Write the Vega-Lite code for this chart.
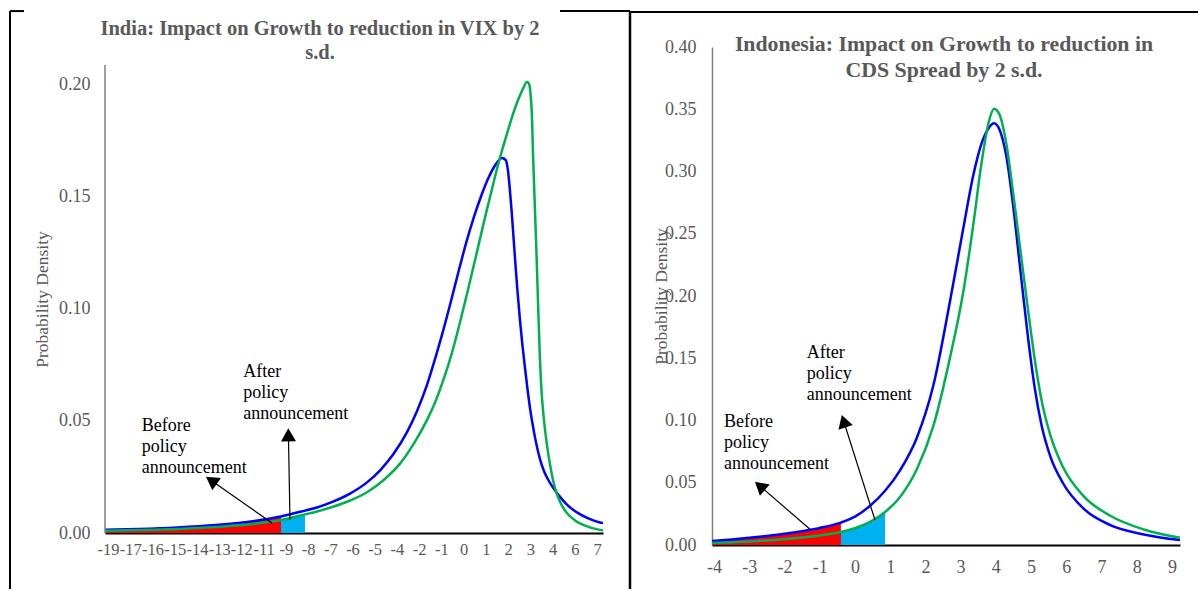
{
  "$schema": "https://vega.github.io/schema/vega-lite/v6.json",
  "background": "white",
  "padding": {"left": 9, "top": 10, "right": 0, "bottom": 0},
  "autosize": {"type": "pad"},
  "bounds": "flush",
  "spacing": 109,
  "config": {
    "view": {"stroke": null},
    "font": "Liberation Serif",
    "axis": {"grid": false, "ticks": false, "tickSize": 0, "labelOverlap": false, "labelFont": "Liberation Serif", "labelFontSize": 18, "labelColor": "#595959", "titleFont": "Liberation Serif", "titleFontSize": 17.5, "titleFontWeight": "normal", "titleColor": "#595959"},
    "title": {"font": "Liberation Serif", "fontWeight": "bold", "color": "#595959", "frame": "group"}
  },
  "datasets": {
    "india": [
      {"x": -18.735, "curve": "Before", "density": 0.0014}, {"x": -17, "curve": "Before", "density": 0.0018}, {"x": -15, "curve": "Before", "density": 0.0025}, {"x": -13, "curve": "Before", "density": 0.0036}, {"x": -11, "curve": "Before", "density": 0.0054}, {"x": -9.63, "curve": "Before", "density": 0.0074}, {"x": -8.39, "curve": "Before", "density": 0.01}, {"x": -7.77, "curve": "Before", "density": 0.0114}, {"x": -6.94, "curve": "Before", "density": 0.014}, {"x": -6.06, "curve": "Before", "density": 0.0176}, {"x": -5.18, "curve": "Before", "density": 0.0226}, {"x": -4.5, "curve": "Before", "density": 0.028}, {"x": -3.83, "curve": "Before", "density": 0.035}, {"x": -3.11, "curve": "Before", "density": 0.045}, {"x": -2.59, "curve": "Before", "density": 0.0545}, {"x": -2.08, "curve": "Before", "density": 0.066}, {"x": -1.65, "curve": "Before", "density": 0.078}, {"x": -1.25, "curve": "Before", "density": 0.09}, {"x": -0.85, "curve": "Before", "density": 0.103}, {"x": -0.45, "curve": "Before", "density": 0.1165}, {"x": -0.05, "curve": "Before", "density": 0.1295}, {"x": 0.35, "curve": "Before", "density": 0.141}, {"x": 0.75, "curve": "Before", "density": 0.151}, {"x": 1.1, "curve": "Before", "density": 0.1585}, {"x": 1.4, "curve": "Before", "density": 0.1635}, {"x": 1.65, "curve": "Before", "density": 0.1665}, {"x": 1.8, "curve": "Before", "density": 0.1674}, {"x": 2.0, "curve": "Before", "density": 0.1665}, {"x": 2.11, "curve": "Before", "density": 0.162}, {"x": 2.2, "curve": "Before", "density": 0.1545}, {"x": 2.3, "curve": "Before", "density": 0.144}, {"x": 2.4, "curve": "Before", "density": 0.132}, {"x": 2.5, "curve": "Before", "density": 0.12}, {"x": 2.6, "curve": "Before", "density": 0.1085}, {"x": 2.73, "curve": "Before", "density": 0.0955}, {"x": 2.86, "curve": "Before", "density": 0.084}, {"x": 2.99, "curve": "Before", "density": 0.074}, {"x": 3.12, "curve": "Before", "density": 0.0645}, {"x": 3.25, "curve": "Before", "density": 0.056}, {"x": 3.38, "curve": "Before", "density": 0.049}, {"x": 3.51, "curve": "Before", "density": 0.0428}, {"x": 3.64, "curve": "Before", "density": 0.0375}, {"x": 3.77, "curve": "Before", "density": 0.033}, {"x": 3.97, "curve": "Before", "density": 0.0278}, {"x": 4.18, "curve": "Before", "density": 0.024}, {"x": 4.4, "curve": "Before", "density": 0.0208}, {"x": 4.65, "curve": "Before", "density": 0.0178}, {"x": 5.15, "curve": "Before", "density": 0.0128}, {"x": 5.68, "curve": "Before", "density": 0.0092}, {"x": 6.3, "curve": "Before", "density": 0.0064}, {"x": 6.87, "curve": "Before", "density": 0.0047}, {"x": 7.03, "curve": "Before", "density": 0.0044},
      {"x": -18.735, "curve": "After", "density": 0.001}, {"x": -17, "curve": "After", "density": 0.0013}, {"x": -15, "curve": "After", "density": 0.0018}, {"x": -13, "curve": "After", "density": 0.0027}, {"x": -11, "curve": "After", "density": 0.0041}, {"x": -9.63, "curve": "After", "density": 0.0058}, {"x": -8.39, "curve": "After", "density": 0.0083}, {"x": -7.77, "curve": "After", "density": 0.0096}, {"x": -6.94, "curve": "After", "density": 0.0117}, {"x": -6.06, "curve": "After", "density": 0.0145}, {"x": -5.18, "curve": "After", "density": 0.0182}, {"x": -4.3, "curve": "After", "density": 0.0238}, {"x": -3.44, "curve": "After", "density": 0.0313}, {"x": -2.75, "curve": "After", "density": 0.04}, {"x": -2.08, "curve": "After", "density": 0.0504}, {"x": -1.65, "curve": "After", "density": 0.0585}, {"x": -1.25, "curve": "After", "density": 0.0678}, {"x": -0.8, "curve": "After", "density": 0.08}, {"x": -0.37, "curve": "After", "density": 0.094}, {"x": 0.07, "curve": "After", "density": 0.1095}, {"x": 0.51, "curve": "After", "density": 0.1255}, {"x": 0.93, "curve": "After", "density": 0.141}, {"x": 1.34, "curve": "After", "density": 0.1555}, {"x": 1.65, "curve": "After", "density": 0.166}, {"x": 2.0, "curve": "After", "density": 0.1765}, {"x": 2.3, "curve": "After", "density": 0.185}, {"x": 2.6, "curve": "After", "density": 0.1925}, {"x": 2.9, "curve": "After", "density": 0.1985}, {"x": 3.09, "curve": "After", "density": 0.2013}, {"x": 3.2, "curve": "After", "density": 0.2005}, {"x": 3.27, "curve": "After", "density": 0.197}, {"x": 3.34, "curve": "After", "density": 0.1888}, {"x": 3.42, "curve": "After", "density": 0.1665}, {"x": 3.51, "curve": "After", "density": 0.1442}, {"x": 3.6, "curve": "After", "density": 0.1219}, {"x": 3.68, "curve": "After", "density": 0.0996}, {"x": 3.77, "curve": "After", "density": 0.0772}, {"x": 3.86, "curve": "After", "density": 0.062}, {"x": 3.97, "curve": "After", "density": 0.051}, {"x": 4.12, "curve": "After", "density": 0.04}, {"x": 4.3, "curve": "After", "density": 0.03}, {"x": 4.46, "curve": "After", "density": 0.023}, {"x": 4.65, "curve": "After", "density": 0.0172}, {"x": 4.81, "curve": "After", "density": 0.0138}, {"x": 5.15, "curve": "After", "density": 0.009}, {"x": 5.6, "curve": "After", "density": 0.0055}, {"x": 6.01, "curve": "After", "density": 0.0036}, {"x": 6.87, "curve": "After", "density": 0.0014}, {"x": 7.03, "curve": "After", "density": 0.0012}
    ],
    "indonesia": [
      {"x": -4.06, "curve": "Before", "density": 0.0032}, {"x": -3.5, "curve": "Before", "density": 0.0045}, {"x": -3, "curve": "Before", "density": 0.0058}, {"x": -2.5, "curve": "Before", "density": 0.0073}, {"x": -2, "curve": "Before", "density": 0.009}, {"x": -1.5, "curve": "Before", "density": 0.0111}, {"x": -1, "curve": "Before", "density": 0.0137}, {"x": -0.4, "curve": "Before", "density": 0.018}, {"x": 0, "curve": "Before", "density": 0.0228}, {"x": 0.43, "curve": "Before", "density": 0.0315}, {"x": 0.855, "curve": "Before", "density": 0.0436}, {"x": 1.28, "curve": "Before", "density": 0.06}, {"x": 1.76, "curve": "Before", "density": 0.0864}, {"x": 2.23, "curve": "Before", "density": 0.1287}, {"x": 2.7, "curve": "Before", "density": 0.196}, {"x": 3.08, "curve": "Before", "density": 0.255}, {"x": 3.36, "curve": "Before", "density": 0.297}, {"x": 3.6, "curve": "Before", "density": 0.323}, {"x": 3.8, "curve": "Before", "density": 0.335}, {"x": 3.95, "curve": "Before", "density": 0.3387}, {"x": 4.1, "curve": "Before", "density": 0.334}, {"x": 4.3, "curve": "Before", "density": 0.312}, {"x": 4.5, "curve": "Before", "density": 0.2707}, {"x": 4.7, "curve": "Before", "density": 0.22}, {"x": 4.9, "curve": "Before", "density": 0.17}, {"x": 5.1, "curve": "Before", "density": 0.127}, {"x": 5.3, "curve": "Before", "density": 0.096}, {"x": 5.55, "curve": "Before", "density": 0.071}, {"x": 5.9, "curve": "Before", "density": 0.05}, {"x": 6.5, "curve": "Before", "density": 0.029}, {"x": 7.25, "curve": "Before", "density": 0.016}, {"x": 8.2, "curve": "Before", "density": 0.0085}, {"x": 9.23, "curve": "Before", "density": 0.004},
      {"x": -4.06, "curve": "After", "density": 0.0016}, {"x": -3.5, "curve": "After", "density": 0.0022}, {"x": -3, "curve": "After", "density": 0.0029}, {"x": -2.5, "curve": "After", "density": 0.0037}, {"x": -2, "curve": "After", "density": 0.0047}, {"x": -1.5, "curve": "After", "density": 0.006}, {"x": -1, "curve": "After", "density": 0.0077}, {"x": -0.4, "curve": "After", "density": 0.0105}, {"x": 0, "curve": "After", "density": 0.0135}, {"x": 0.43, "curve": "After", "density": 0.0185}, {"x": 0.855, "curve": "After", "density": 0.0265}, {"x": 1.28, "curve": "After", "density": 0.0385}, {"x": 1.76, "curve": "After", "density": 0.061}, {"x": 2.23, "curve": "After", "density": 0.096}, {"x": 2.7, "curve": "After", "density": 0.1507}, {"x": 3.08, "curve": "After", "density": 0.204}, {"x": 3.36, "curve": "After", "density": 0.2573}, {"x": 3.6, "curve": "After", "density": 0.308}, {"x": 3.8, "curve": "After", "density": 0.34}, {"x": 3.95, "curve": "After", "density": 0.3505}, {"x": 4.1, "curve": "After", "density": 0.346}, {"x": 4.3, "curve": "After", "density": 0.322}, {"x": 4.5, "curve": "After", "density": 0.281}, {"x": 4.7, "curve": "After", "density": 0.236}, {"x": 4.9, "curve": "After", "density": 0.192}, {"x": 5.1, "curve": "After", "density": 0.15}, {"x": 5.3, "curve": "After", "density": 0.116}, {"x": 5.55, "curve": "After", "density": 0.088}, {"x": 5.9, "curve": "After", "density": 0.063}, {"x": 6.5, "curve": "After", "density": 0.039}, {"x": 7.25, "curve": "After", "density": 0.0235}, {"x": 8.2, "curve": "After", "density": 0.0125}, {"x": 9.23, "curve": "After", "density": 0.0058}
    ]
  },
  "hconcat": [
    {
      "width": 498,
      "height": 486,
      "title": {"text": ["India: Impact on Growth to reduction in VIX by 2", "s.d."], "fontSize": 20.5, "lineHeight": 24, "offset": -53, "dx": -34, "anchor": "middle", "frame": "group"},
      "layer": [
        {
          "data": {"name": "india"},
          "transform": [{"filter": "datum.curve == 'After' && datum.x <= -8.39"}],
          "mark": {"type": "area", "color": "#00B0F0", "interpolate": "monotone"},
          "encoding": {
            "x": {"field": "x", "type": "quantitative", "scale": {"domain": [-18.735, 7.03], "nice": false, "zero": false},
              "axis": {"title": null, "values": [-18.58, -17.43, -16.28, -15.13, -13.98, -12.83, -11.68, -10.53, -9.38, -8.23, -7.08, -5.93, -4.78, -3.63, -2.48, -1.33, -0.18, 0.97, 2.12, 3.27, 4.42, 5.57, 6.72], "tickCount": 50, "labelExpr": "'' + round(datum.value)", "labelOverlap": false, "labelBound": false, "labelFlush": false, "labelFontSize": 16.5, "labelPadding": 8, "domainColor": "#000000", "domainWidth": 2}},
            "y": {"field": "density", "type": "quantitative", "scale": {"domain": [0, 0.21696], "nice": false, "zero": true},
              "axis": {"title": "Probability Density", "values": [0, 0.05, 0.1, 0.15, 0.2], "tickCount": 20, "format": ".2f", "domain": false, "labelPadding": 15, "titlePadding": 7, "titleY": 252}}
          }
        },
        {
          "data": {"name": "india"},
          "transform": [{"filter": "datum.curve == 'Before' && datum.x <= -9.63"}],
          "mark": {"type": "area", "color": "#FF0000", "interpolate": "monotone"},
          "encoding": {
            "x": {"field": "x", "type": "quantitative"},
            "y": {"field": "density", "type": "quantitative"}
          }
        },
        {
          "data": {"name": "india"},
          "mark": {"type": "line", "strokeWidth": 2.5, "interpolate": "monotone"},
          "encoding": {
            "x": {"field": "x", "type": "quantitative"},
            "y": {"field": "density", "type": "quantitative"},
            "color": {"field": "curve", "type": "nominal", "scale": {"domain": ["Before", "After"], "range": ["#0000FF", "#00B050"]}, "legend": null}
          }
        },
        {
          "data": {"values": [{}]},
          "mark": {"type": "rule", "color": "#808080", "strokeWidth": 1.5},
          "encoding": {"x": {"datum": -18.735}, "y": {"datum": 0}, "y2": {"datum": 0.2089}}
        },
        {
          "data": {"values": [{}]},
          "mark": {"type": "text", "align": "left", "baseline": "top", "fontSize": 18, "lineHeight": 21, "color": "#000000", "font": "Liberation Serif", "text": ["Before", "policy", "announcement"]},
          "encoding": {"x": {"datum": -16.836}, "y": {"datum": 0.052}}
        },
        {
          "data": {"values": [{}]},
          "mark": {"type": "text", "align": "left", "baseline": "top", "fontSize": 18, "lineHeight": 21, "color": "#000000", "font": "Liberation Serif", "text": ["After", "policy", "announcement"]},
          "encoding": {"x": {"datum": -11.58}, "y": {"datum": 0.0761}}
        },
        {
          "data": {"values": [{}]},
          "mark": {"type": "rule", "color": "#000000", "strokeWidth": 1.2},
          "encoding": {"x": {"datum": -10.095}, "y": {"datum": 0.00446}, "x2": {"datum": -13.235}, "y2": {"datum": 0.02344}}
        },
        {
          "data": {"values": [{}]},
          "mark": {"type": "point", "shape": "triangle-up", "filled": true, "color": "#000000", "opacity": 1, "size": 225, "angle": -55},
          "encoding": {"x": {"datum": -13.235}, "y": {"datum": 0.02344}}
        },
        {
          "data": {"values": [{}]},
          "mark": {"type": "rule", "color": "#000000", "strokeWidth": 1.2},
          "encoding": {"x": {"datum": -9.164}, "y": {"datum": 0.0058}, "x2": {"datum": -9.246}, "y2": {"datum": 0.04384}}
        },
        {
          "data": {"values": [{}]},
          "mark": {"type": "point", "shape": "triangle-up", "filled": true, "color": "#000000", "opacity": 1, "size": 225, "angle": -1},
          "encoding": {"x": {"datum": -9.246}, "y": {"datum": 0.04384}}
        },
        {
          "data": {"values": [{}]},
          "mark": {"type": "rule", "color": "#000000", "strokeWidth": 2, "clip": false},
          "encoding": {"x": {"datum": -23.65}, "y": {"datum": -0.025}, "y2": {"datum": 0.233}}
        },
        {
          "data": {"values": [{}]},
          "mark": {"type": "rule", "color": "#000000", "strokeWidth": 2, "clip": false},
          "encoding": {"x": {"datum": -23.65}, "x2": {"datum": -22.926}, "y": {"datum": 0.233}}
        },
        {
          "data": {"values": [{}]},
          "mark": {"type": "rule", "color": "#000000", "strokeWidth": 2, "clip": false},
          "encoding": {"x": {"datum": 4.806}, "x2": {"datum": 8.428}, "y": {"datum": 0.233}}
        }
      ]
    },
    {
      "width": 468,
      "height": 498,
      "title": {"text": ["Indonesia: Impact on Growth to reduction in", "CDS Spread by 2 s.d."], "fontSize": 21.8, "lineHeight": 26, "offset": -71, "dx": -2, "anchor": "middle", "frame": "group"},
      "layer": [
        {
          "data": {"name": "indonesia"},
          "transform": [{"filter": "datum.curve == 'After' && datum.x <= 0.855"}],
          "mark": {"type": "area", "color": "#00B0F0", "interpolate": "monotone"},
          "encoding": {
            "x": {"field": "x", "type": "quantitative", "scale": {"domain": [-4.06, 9.23], "nice": false, "zero": false},
              "axis": {"title": null, "values": [-4, -3, -2, -1, 0, 1, 2, 3, 4, 5, 6, 7, 8, 9], "tickCount": 50, "labelExpr": "'' + datum.value", "labelOverlap": false, "labelBound": false, "labelFlush": false, "labelPadding": 13, "domainColor": "#000000", "domainWidth": 2}},
            "y": {"field": "density", "type": "quantitative", "scale": {"domain": [0, 0.4], "nice": false, "zero": true},
              "axis": {"title": "Probability Density", "values": [0, 0.05, 0.1, 0.15, 0.2, 0.25, 0.3, 0.35, 0.4], "tickCount": 20, "format": ".2f", "domainColor": "#808080", "domainWidth": 1.5, "labelPadding": 16, "titlePadding": -6}}
          }
        },
        {
          "data": {"name": "indonesia"},
          "transform": [{"filter": "datum.curve == 'Before' && datum.x <= -0.4"}],
          "mark": {"type": "area", "color": "#FF0000", "interpolate": "monotone"},
          "encoding": {
            "x": {"field": "x", "type": "quantitative"},
            "y": {"field": "density", "type": "quantitative"}
          }
        },
        {
          "data": {"name": "indonesia"},
          "mark": {"type": "line", "strokeWidth": 2.5, "interpolate": "monotone"},
          "encoding": {
            "x": {"field": "x", "type": "quantitative"},
            "y": {"field": "density", "type": "quantitative"},
            "color": {"field": "curve", "type": "nominal", "scale": {"domain": ["Before", "After"], "range": ["#0000FF", "#00B050"]}, "legend": null}
          }
        },
        {
          "data": {"values": [{}]},
          "mark": {"type": "text", "align": "left", "baseline": "top", "fontSize": 18, "lineHeight": 21, "color": "#000000", "font": "Liberation Serif", "text": ["Before", "policy", "announcement"]},
          "encoding": {"x": {"datum": -3.719}, "y": {"datum": 0.1059}}
        },
        {
          "data": {"values": [{}]},
          "mark": {"type": "text", "align": "left", "baseline": "top", "fontSize": 18, "lineHeight": 21, "color": "#000000", "font": "Liberation Serif", "text": ["After", "policy", "announcement"]},
          "encoding": {"x": {"datum": -1.371}, "y": {"datum": 0.1614}}
        },
        {
          "data": {"values": [{}]},
          "mark": {"type": "rule", "color": "#000000", "strokeWidth": 1.2},
          "encoding": {"x": {"datum": -1.277}, "y": {"datum": 0.01261}, "x2": {"datum": -2.7}, "y2": {"datum": 0.04747}}
        },
        {
          "data": {"values": [{}]},
          "mark": {"type": "point", "shape": "triangle-up", "filled": true, "color": "#000000", "opacity": 1, "size": 225, "angle": -49},
          "encoding": {"x": {"datum": -2.7}, "y": {"datum": 0.04747}}
        },
        {
          "data": {"values": [{}]},
          "mark": {"type": "rule", "color": "#000000", "strokeWidth": 1.2},
          "encoding": {"x": {"datum": 0.569}, "y": {"datum": 0.02008}, "x2": {"datum": -0.32}, "y2": {"datum": 0.09944}}
        },
        {
          "data": {"values": [{}]},
          "mark": {"type": "point", "shape": "triangle-up", "filled": true, "color": "#000000", "opacity": 1, "size": 225, "angle": -17.6},
          "encoding": {"x": {"datum": -0.32}, "y": {"datum": 0.09944}}
        },
        {
          "data": {"values": [{}]},
          "mark": {"type": "rule", "color": "#000000", "strokeWidth": 2.5, "clip": false},
          "encoding": {"x": {"datum": -6.389}, "y": {"datum": -0.03534}, "y2": {"datum": 0.4281}}
        },
        {
          "data": {"values": [{}]},
          "mark": {"type": "rule", "color": "#000000", "strokeWidth": 2, "clip": false},
          "encoding": {"x": {"datum": -6.389}, "x2": {"datum": 9.74}, "y": {"datum": 0.4281}}
        }
      ]
    }
  ]
}
